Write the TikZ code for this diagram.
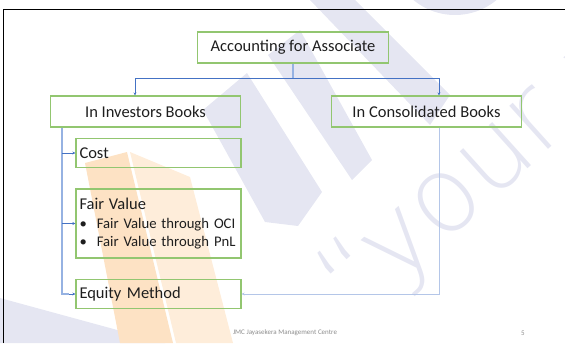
\documentclass[tikz,border=0pt]{standalone}
\usepackage{fontspec}
\setmainfont{Carlito}
\newfontfamily\wmfont{DejaVu Sans ExtraLight}
\usetikzlibrary{arrows.meta}
\definecolor{boxgreen}{RGB}{146,198,112}
\definecolor{linkblue}{RGB}{68,114,196}
\definecolor{paleblue}{RGB}{150,178,226}
\definecolor{faintblue}{RGB}{180,198,232}
\definecolor{txtgray}{RGB}{30,30,30}
\definecolor{wmlav}{RGB}{229,230,242}
\definecolor{wmorange}{RGB}{253,226,196}
\definecolor{wmpeach}{RGB}{254,237,218}
\tikzset{
  box/.style={draw=boxgreen,line width=1.2pt,text=txtgray,minimum height=31pt,
    inner xsep=3.5pt,font=\fontsize{16.5}{20}\selectfont},
  topbox/.style={box,minimum width=191pt},
  bookbox/.style={box,minimum width=190pt},
  subbox/.style={box,text width=158pt,align=left,minimum height=28.6pt},
  link/.style={draw=linkblue,line width=0.8pt,-{Stealth[length=3pt,width=3pt]}},
  spine/.style={draw=paleblue,line width=1.5pt},
  stub/.style={draw=linkblue,line width=0.6pt,-{Stealth[length=3pt,width=3pt]}},
  backlink/.style={draw=faintblue,line width=0.8pt,-{Stealth[length=3pt,width=3pt]}},
  wmtext/.style={text=wmlav,font=\wmfont\fontsize{106}{112}\selectfont,inner sep=0pt}
}
\begin{document}
\begin{tikzpicture}[x=1pt,y=-1pt]
    \useasboundingbox (0,0) rectangle (565,343);

    % watermark
    \begin{scope}
        \clip (0,0) rectangle (565,343);
        \fill[wmlav] (203,110) -- (247,73) -- (322,192) -- (298,226) -- (265,222) -- cycle;
        \fill[wmlav] (268,55) -- (300,30) -- (372,160) -- (352,180) -- cycle;
        \fill[wmlav] (310,0) -- (355,0) -- (450,95) -- (430,125) -- cycle;
        \fill[wmlav,even odd rule] (455,-50) circle (65) (455,-50) circle (45);
        \fill[wmlav] (0,298) -- (165,343) -- (0,343) -- cycle;
        \fill[wmorange] (85,163) -- (127,152) -- (173,343) -- (120,343) -- cycle;
        \fill[wmpeach] (130,152) -- (190,177) -- (233,343) -- (176,343) -- cycle;
        \node[wmtext,anchor=base west,rotate=42] (motto) at (357,322) {“your vi};
    \end{scope}

    % slide frame
    \draw[line width=1.2pt] (3.5,343) -- (3.5,9.5) -- (565,9.5);

    \node[topbox] (acc) at (293,47.5) {Accounting for Associate};
    \node[bookbox] (invest) at (145.5,111.5) {In Investors Books};
    \node[bookbox] (consol) at (426.5,111.5) {In Consolidated Books};

    \node[subbox] (cost) at (158.5,153) {Cost};
    \node[subbox,minimum height=69pt,font=\fontsize{14.7}{17.7}\selectfont] (fair) at (158.5,223.5)
        {{\fontsize{16.5}{17.7}\selectfont Fair Value}\\[1.6pt]
         \textbullet\hspace{10pt}Fair Value through OCI\\
         \textbullet\hspace{10pt}Fair Value through PnL};
    \node[subbox] (equity) at (158.5,294) {Equity Method};

    % top split
    \coordinate (split) at (293,78.6);
    \draw[spine,line width=1.2pt] (acc.south) -- (split);
    \draw[link] (split) -| ([xshift=-10.5pt]invest.north);
    \draw[link] (split) -| ([xshift=12.5pt]consol.north);

    % investors books
    \coordinate (spinetop) at ([xshift=-83.5pt]invest.south);
    \draw[spine] (spinetop) |- ([xshift=-6pt]equity.west);
    \draw[stub] (spinetop |- cost.west) -- (cost.west);
    \draw[stub] (spinetop |- fair.west) -- (fair.west);
    \draw[stub] ([xshift=-6pt]equity.west) -- (equity.west);

    % consolidated books
    \draw[backlink] ([xshift=12.5pt]consol.south) |- (equity.east);

    \node[font=\fontsize{7}{8}\selectfont,text=black!45] (footer) at (285,333) {JMC Jayasekera Management Centre};
    \node[font=\fontsize{7}{8}\selectfont,text=black!45] (pageno) at (523,333) {5};
\end{tikzpicture}
\end{document}
